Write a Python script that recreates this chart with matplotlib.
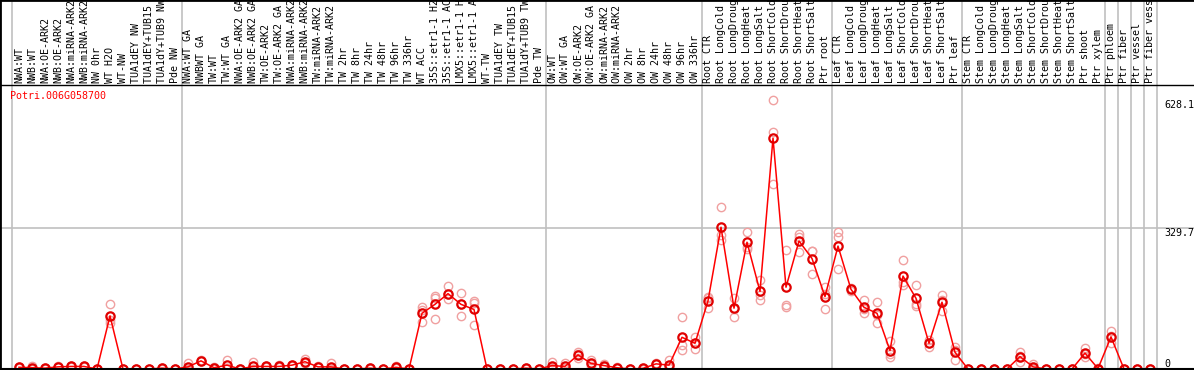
import matplotlib
matplotlib.use("Agg")
import matplotlib.pyplot as plt
import matplotlib.transforms as mtransforms

# ------------------------------------------------------------------
# Data: sample labels, mean expression and replicate values
# ------------------------------------------------------------------
gene = "Potri.006G058700"

samples = [
    "NWA:WT", "NWB:WT", "NWA:OE-ARK2", "NWB:OE-ARK2", "NWA:miRNA-ARK2",
    "NWB:miRNA-ARK2", "NW 0hr", "WT H2O", "WT-NW", "TUA1dEY NW",
    "TUA1dEY+TUB15 NW", "TUA1dY+TUB9 NW", "Pde NW",
    "NWA:WT GA", "NWBWT GA", "TW:WT", "TW:WT GA", "NWA:OE-ARK2 GA",
    "NWB:OE-ARK2 GA", "TW:OE-ARK2", "TW:OE-ARK2 GA", "NWA:miRNA-ARK2 GA",
    "NWB:miRNA-ARK2 GA", "TW:miRNA-ARK2", "TW:miRNA-ARK2 GA", "TW 2hr",
    "TW 8hr", "TW 24hr", "TW 48hr", "TW 96hr", "TW 336hr", "WT ACC",
    "35S::etr1-1 H2O", "35S::etr1-1 ACC", "LMX5::etr1-1 H2O",
    "LMX5::etr1-1 ACC", "WT-TW", "TUA1dEY TW", "TUA1dEY+TUB15 TW",
    "TUA1dY+TUB9 TW", "Pde TW",
    "OW:WT", "OW:WT GA", "OW:OE-ARK2", "OW:OE-ARK2 GA", "OW:miRNA-ARK2",
    "OW:miRNA-ARK2 GA", "OW 2hr", "OW 8hr", "OW 24hr", "OW 48hr", "OW 96hr",
    "OW 336hr",
    "Root CTR", "Root LongCold", "Root LongDrought", "Root LongHeat",
    "Root LongSalt", "Root ShortCold", "Root ShortDrought", "Root ShortHeat",
    "Root ShortSalt", "Ptr root",
    "Leaf CTR", "Leaf LongCold", "Leaf LongDrought", "Leaf LongHeat",
    "Leaf LongSalt", "Leaf ShortCold", "Leaf ShortDrought", "Leaf ShortHeat",
    "Leaf ShortSalt", "Ptr leaf",
    "Stem CTR", "Stem LongCold", "Stem LongDrought", "Stem LongHeat",
    "Stem LongSalt", "Stem ShortCold", "Stem ShortDrought", "Stem ShortHeat",
    "Stem ShortSalt", "Ptr shoot", "Ptr xylem",
    "Ptr phloem", "Ptr fiber", "Ptr vessel", "Ptr fiber vessel",
]

# number of samples in each block (separated by grey lines)
group_sizes = [13, 28, 12, 10, 10, 11, 1, 1, 1, 1]

means = [
    4, 3, 2, 5, 6, 6, 0, 124, 0, 0, 0, 2, 0,
    5, 19, 3, 9, 0, 6, 6, 6, 9, 17, 5, 5, 0, 0, 2, 0, 4, 0, 130,
    151, 176, 151, 139, 0, 0, 0, 2, 0,
    8, 6, 33, 13, 8, 3, 0, 1.5, 12, 9, 74, 60,
    159, 331, 142, 296, 181, 539, 191, 299, 258, 169,
    287, 186, 144, 130, 43, 217, 165, 60, 156, 39,
    0, 0, 0, 0, 29, 5, 0, 0, 0, 37, 1,
    75, 0, 0, 0,
]

replicates = [
    [4, 3, 5], [8, 1, 0], [2, 1, 3], [5, 4, 6], [7, 5, 6], [8, 4, 6],
    [0, 0, 0], [151, 114, 107], [0, 0, 0], [0, 0, 0], [0, 0, 0],
    [3, 2, 1], [0, 0, 0],
    [13, 1, 1], [20, 18, 19], [5, 2, 2], [22, 3, 2], [0, 0, 0],
    [17, 1, 0], [7, 5, 6], [10, 4, 4], [10, 8, 9], [23, 14, 14],
    [6, 4, 5], [13, 1, 1], [0, 0, 0], [0, 0, 0], [3, 2, 1], [0, 0, 0],
    [6, 3, 3], [0, 0, 0], [144, 137, 110], [170, 165, 116],
    [194, 176, 163], [177, 152, 124], [159, 155, 103], [0, 0, 0],
    [0, 0, 0], [0, 0, 0], [3, 2, 1], [0, 0, 0],
    [17, 4, 3], [14, 2, 2], [40, 34, 25], [21, 12, 6], [12, 7, 5],
    [4, 3, 2], [0, 0, 0], [2, 1, 1], [13, 12, 11], [21, 4, 2],
    [121, 56, 45], [74, 60, 46],
    [169, 166, 142], [378, 313, 302], [165, 141, 121], [321, 286, 281],
    [208, 173, 161], [628.1, 553, 431], [278, 149, 144], [315, 309, 274],
    [276, 276, 222], [192, 176, 139],
    [321, 309, 233], [190, 186, 182], [161, 141, 131], [156, 127, 108],
    [66, 36, 27], [254, 202, 196], [196, 152, 147], [68, 60, 52],
    [173, 160, 136], [52, 44, 21],
    [0, 0, 0], [0, 0, 0], [0, 0, 0], [0, 0, 0], [40, 30, 17],
    [12, 2, 1], [0, 0, 0], [0, 0, 0], [0, 0, 0], [48, 34, 29], [2, 1, 0],
    [88, 77, 61], [0, 0, 0], [0, 0, 0], [0, 0, 0],
]

y_ticks = [0, 329.7, 628.1]

# ------------------------------------------------------------------
# Layout (pixel based, figure is 1194 x 370)
# ------------------------------------------------------------------
W, H = 1194, 370
x0, dx = 19, 13            # centre of first column, column spacing (px)
y_base, y_top = 369, 100   # pixel rows of 0 and of the max value
ymax = max(max(r) for r in replicates)
k = (y_base - y_top) / ymax

fig = plt.figure(figsize=(W / 100, H / 100), dpi=100)
ax = fig.add_axes([0, 0, 1, 1])
ax.set_xlim(-x0 / dx, (W - x0) / dx)
ax.set_ylim(-(H - y_base) / k, y_base / k)
ax.set_xticks([])
ax.set_yticks([])
for side in ["right", "bottom"]:
    ax.spines[side].set_visible(False)
for side in ["left", "top"]:
    ax.spines[side].set_linewidth(2)

mono = "DejaVu Sans Mono"
fs = 7.2
grey = "#c0c0c0"
xt = mtransforms.blended_transform_factory(ax.transData, ax.transAxes)
yt = mtransforms.blended_transform_factory(ax.transAxes, ax.transData)

# group separators
edge = -0.5
ax.axvline(edge, color=grey, lw=1.2, zorder=1)
for g in group_sizes:
    edge += g
    ax.axvline(edge, color=grey, lw=1.2, zorder=1)

# horizontal grid line at the middle tick
ax.axhline(y_ticks[1], color=grey, lw=1.2, zorder=1)

# header line and baseline
ax.axhline(0, color="black", lw=1.5, zorder=5)
ax.plot([0, 1], [1 - 85 / H, 1 - 85 / H], color="black", lw=1,
        transform=ax.transAxes, zorder=5)

# sample labels (vertical, clipped at the top)
for i, lab in enumerate(samples):
    ax.text(i, 1 - 83 / H, lab, rotation=90, ha="center", va="bottom",
            family=mono, fontsize=fs, transform=xt, clip_on=True)

# replicates, then the mean line
xs = list(range(len(samples)))
for i, reps in enumerate(replicates):
    ax.plot([i] * len(reps), reps, linestyle="none", marker="o", ms=6,
            mfc="none", mec="#f0a0a0", mew=1, zorder=3)
ax.plot(xs, means, color="#ff0000", lw=1.1, zorder=4)
ax.plot(xs, means, linestyle="none", marker="o", ms=6, mfc="none",
        mec="#e00000", mew=1.6, zorder=4)

# right side value labels
x_lab = 1164 / W
ax.text(x_lab, y_ticks[2], f"{y_ticks[2]}", va="top", ha="left",
        family=mono, fontsize=fs, transform=yt)
ax.text(x_lab, y_ticks[1], f"{y_ticks[1]}", va="top", ha="left",
        family=mono, fontsize=fs, transform=yt)
ax.text(x_lab, y_ticks[0], f"{y_ticks[0]}", va="bottom", ha="left",
        family=mono, fontsize=fs, transform=yt)

# gene id
ax.text(10 / W, 1 - 99 / H, gene, color="red", family=mono, fontsize=fs,
        va="baseline", ha="left", transform=ax.transAxes)

fig.savefig("out.png", dpi=100)
